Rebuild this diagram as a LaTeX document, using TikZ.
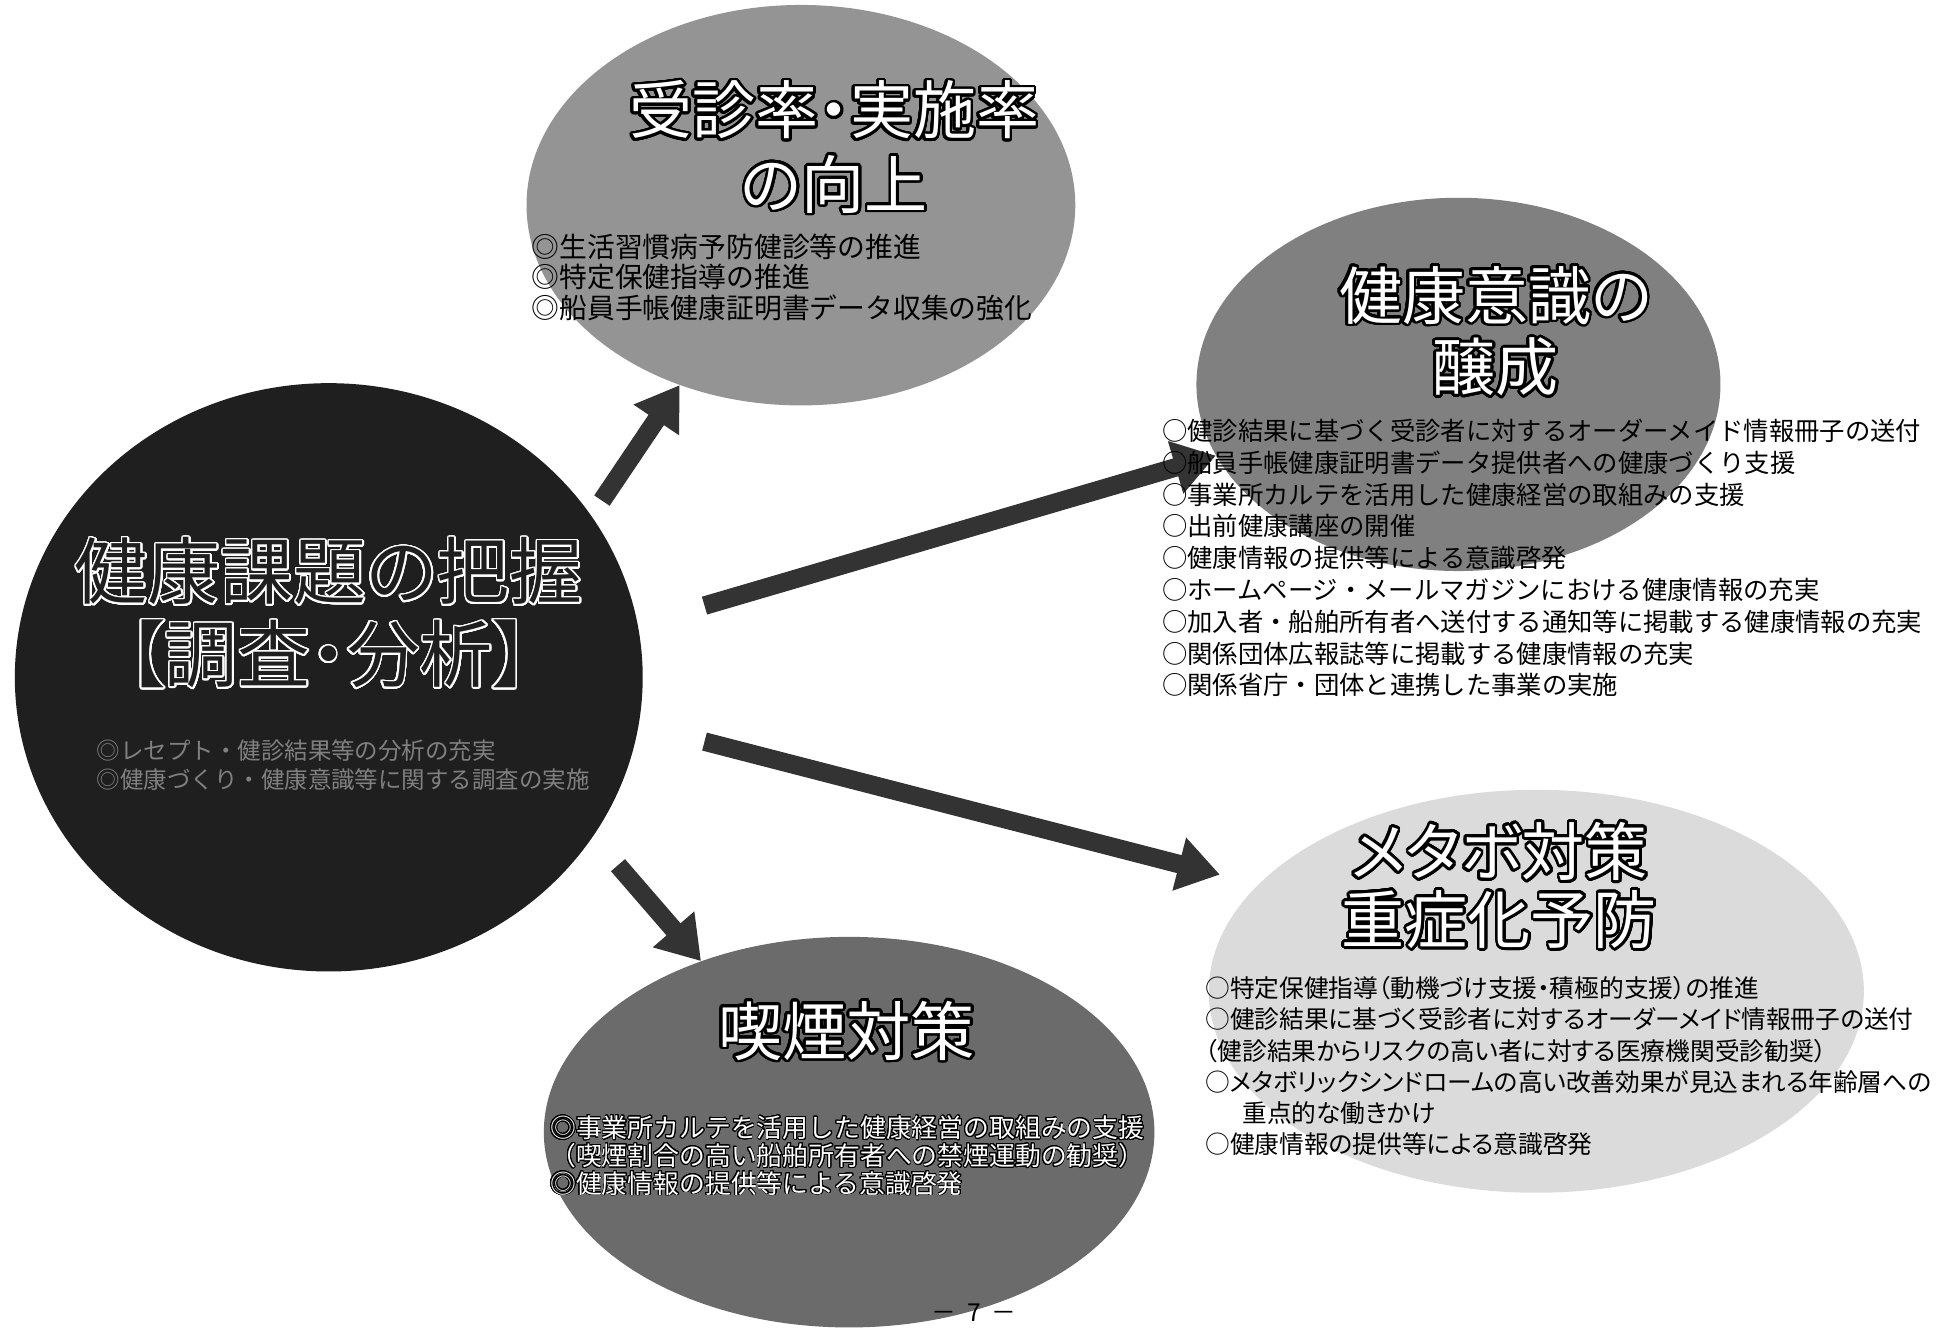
\documentclass[tikz,border=0pt]{standalone}
\usepackage{fontspec}
\setmainfont{Noto Sans CJK JP}
\newfontfamily\propjp{Noto Sans CJK JP}[RawFeature=+palt]
\usepackage{contour}
\contournumber{32}
\usetikzlibrary{shapes.geometric,arrows.meta}
\begin{document}
\begin{tikzpicture}[x=1pt,y=-1pt,
  blob/.style={ellipse, inner sep=0pt, draw=none},
  bigarrow/.style={line width=15pt, draw=black!80, -{Triangle[length=34pt,width=42pt]}},
  ttl/.style={align=center, inner sep=0pt, text=white},
  bl/.style={align=left, inner sep=0pt, anchor=north west},
]
\fill[white] (0,0) rectangle (1568,1074);
\useasboundingbox (0,0) rectangle (1568,1074);

% shapes
\node[blob, fill=black!88, minimum width=508pt, minimum height=476pt] (main) at (266,548) {};
\node[blob, fill=black!42, minimum width=444pt, minimum height=324pt] (A) at (648,166) {};
\node[blob, fill=black!50, minimum width=424pt, minimum height=302pt] (B) at (1180,311) {};
\node[blob, fill=black!14, minimum width=530pt, minimum height=326pt] (C) at (1243,802) {};
\node[blob, fill=black!58, minimum width=494pt, minimum height=316pt] (D) at (687,916) {};

% arrows
\coordinate (t1) at (487,405);
\coordinate (t2) at (570,490);
\coordinate (t3) at (570,600);
\coordinate (t4) at (500,700);
\draw[bigarrow] (t1) -- (A);
\draw[bigarrow] (t2) -- (B);
\draw[bigarrow, shorten >=32pt] (t3) -- (C.159);
\draw[bigarrow] (t4) -- (D);

% titles
\node[ttl, text=black!88, font=\propjp\fontsize{59}{67}\selectfont\contourlength{1.3pt}] (mainT) at (266,496.5)
  {\contour{white}{健康課題の把握}\\\contour{white}{【調査・分析】}};
\node[ttl, font=\propjp\fontsize{51}{60}\selectfont\contourlength{2.2pt}] (AT) at (675,120)
  {\contour{black}{受診率・実施率}\\\contour{black}{の向上}};
\node[ttl, font=\propjp\fontsize{51}{58}\selectfont\contourlength{2.2pt}] (BT) at (1210,269)
  {\contour{black}{健康意識の}\\\contour{black}{醸成}};
\node[ttl, font=\propjp\fontsize{51}{55}\selectfont\contourlength{2.2pt}] (CT) at (1213,717.5)
  {\contour{black}{メタボ対策}\\\contour{black}{重症化予防}};
\node[ttl, font=\propjp\fontsize{52}{60}\selectfont\contourlength{2.2pt}] (DT) at (685,835)
  {\contour{black}{喫煙対策}};

% bullet texts
\node[bl, text=black!50, font=\fontsize{19}{23}\selectfont] (mainL) at (78,598.5)
  {◎レセプト・健診結果等の分析の充実\\◎健康づくり・健康意識等に関する調査の実施};
\node[bl, font=\fontsize{22.5}{25}\selectfont] (AL) at (430,188.75)
  {◎生活習慣病予防健診等の推進\\◎特定保健指導の推進\\◎船員手帳健康証明書データ収集の強化};
\node[bl, font=\fontsize{20.5}{25.75}\selectfont] (BL) at (940,338.75)
  {○健診結果に基づく受診者に対するオーダーメイド情報冊子の送付\\
   ○船員手帳健康証明書データ提供者への健康づくり支援\\
   ○事業所カルテを活用した健康経営の取組みの支援\\
   ○出前健康講座の開催\\
   ○健康情報の提供等による意識啓発\\
   ○ホームページ・メールマガジンにおける健康情報の充実\\
   ○加入者・船舶所有者へ送付する通知等に掲載する健康情報の充実\\
   ○関係団体広報誌等に掲載する健康情報の充実\\
   ○関係省庁・団体と連携した事業の実施};
\node[bl, font=\propjp\fontsize{20}{25.2}\selectfont] (CL) at (975,790)
  {○特定保健指導（動機づけ支援・積極的支援）の推進\\
   ○健診結果に基づく受診者に対するオーダーメイド情報冊子の送付\\
   （健診結果からリスクの高い者に対する医療機関受診勧奨）\\
   ○メタボリックシンドロームの高い改善効果が見込まれる年齢層への\\
   \hspace*{1.5em}重点的な働きかけ\\
   ○健康情報の提供等による意識啓発};
\node[bl, text=white, font=\fontsize{20.9}{22.5}\selectfont\contourlength{0.7pt}] (DL) at (445,902.5)
  {\contour{black}{◎事業所カルテを活用した健康経営の取組みの支援}\\
   \contour{black}{（喫煙割合の高い船舶所有者への禁煙運動の勧奨）}\\
   \contour{black}{◎健康情報の提供等による意識啓発}};

% page number
\node[font=\fontsize{20}{20}\selectfont, inner sep=0pt] (pg) at (788,1062) {－\hspace{0.45em}7\hspace{0.45em}－};
\end{tikzpicture}
\end{document}
